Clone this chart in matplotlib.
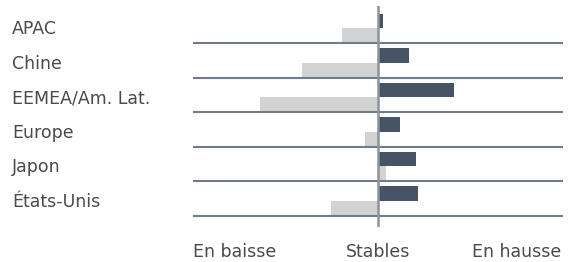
import matplotlib
matplotlib.use("Agg")
import matplotlib.pyplot as plt

categories = ["APAC", "Chine", "EEMEA/Am. Lat.", "Europe", "Japon", "États-Unis"]
dark_values = [2.5, 16.6, 41.0, 11.9, 20.5, 21.6]
light_values = [-19.5, -41.0, -64.0, -7.0, 4.3, -25.4]
tick_labels = ["En baisse", "Stables", "En hausse"]

DARK = "#475466"
LIGHT = "#d2d2d2"
LINE = "#737b8a"
TEXT = "#4a4a4a"

plt.rcParams["font.family"] = ["DejaVu Sans"]
FS = 12.5

fig = plt.figure(figsize=(5.69, 2.62), dpi=100)
ax = fig.add_axes([193 / 569, 1 - 227 / 262, (563 - 193) / 569, 221 / 262])

h = 0.425
ys = list(range(len(categories)))
ax.barh([y - h / 2 for y in ys], dark_values, height=h, color=DARK, zorder=2)
ax.barh([y + h / 2 for y in ys], light_values, height=h, color=LIGHT, zorder=2)

for y in ys:
    ax.axhline(y + h, color=LINE, lw=1.5, zorder=3)
ax.axvline(0, color="#8c939e", lw=1.8, zorder=4)

ax.set_xlim(-100, 100)
ax.set_ylim(5.754, -0.652)
for s in ax.spines.values():
    s.set_visible(False)
ax.set_xticks([])
ax.set_yticks([])

for y, c in zip(ys, categories):
    fig.text(12 / 569, 1 - (28.5 + 34.5 * y + 1) / 262, c, ha="left", va="center",
             fontsize=FS, color=TEXT)

fig.text(193 / 569, 1 - 252 / 262, tick_labels[0], ha="left", va="center", fontsize=FS, color=TEXT)
fig.text(378 / 569, 1 - 252 / 262, tick_labels[1], ha="center", va="center", fontsize=FS, color=TEXT)
fig.text(561 / 569, 1 - 252 / 262, tick_labels[2], ha="right", va="center", fontsize=FS, color=TEXT)

fig.savefig("out.png", dpi=100)
